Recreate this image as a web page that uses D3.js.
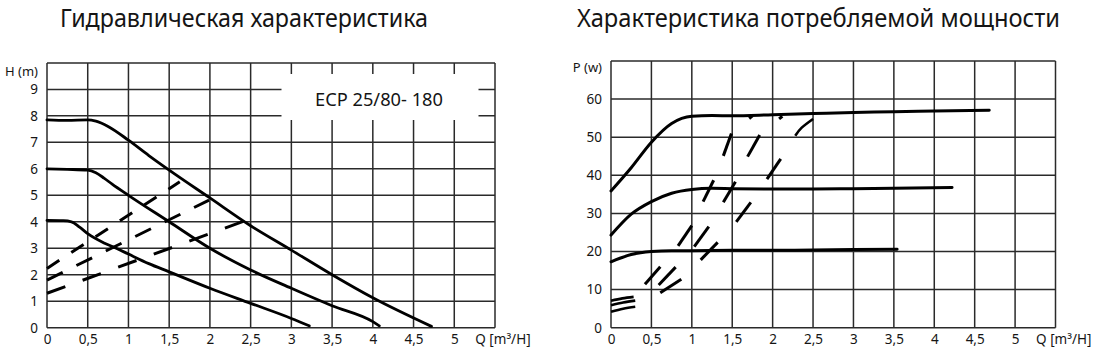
<!DOCTYPE html>
<html><head><meta charset="utf-8">
<script src="https://cdn.jsdelivr.net/npm/d3@7/dist/d3.min.js"></script>
<style>
body{margin:0;background:#fff}
text{font-family:"Noto Sans",sans-serif;fill:#151515}
</style>
</head><body>
<svg id="chart" width="1102" height="358"></svg>
<script>
// ---------- data ----------
const titleLeft = "Гидравлическая характеристика";
const titleRight = "Характеристика потребляемой мощности";
const modelLabel = "ECP 25/80- 180";
const hLabel = "H (m)";
const pLabel = "P (w)";
const qLabel = "Q [m³/H]";

const qTicks = [0,0.5,1,1.5,2,2.5,3,3.5,4,4.5,5];
const qGrid  = [0,0.5,1,1.5,2,2.5,3,3.5,4,4.5,5,5.5];
const hTicks = [0,1,2,3,4,5,6,7,8,9];
const hGrid  = [0,1,2,3,4,5,6,7,8,9,10];
const pTicks = [0,10,20,30,40,50,60];
const pGrid  = [0,10,20,30,40,50,60,70];

// hydraulic curves (speed 3, 2, 1)
const hQ3 = [0,0.25,0.5,0.6,0.75,1,1.25,1.5,2,2.5,3,3.5,4,4.72];
const hH3 = [7.85,7.83,7.85,7.8,7.6,7.08,6.5,5.95,4.9,3.85,2.93,2.0,1.13,0.05];
const hQ2 = [0,0.25,0.5,0.6,0.7,0.8,1,1.5,2,2.5,3,3.5,4,4.08];
const hH2 = [6.0,5.98,5.95,5.85,5.65,5.42,5.0,4.0,3.0,2.18,1.49,0.83,0.23,0.07];
const hQ1 = [0,0.2,0.3,0.4,0.5,0.7,0.85,1,1.25,1.5,2,2.5,3,3.22];
const hH1 = [4.05,4.04,4.0,3.8,3.55,3.2,3.0,2.78,2.42,2.11,1.49,0.92,0.35,0.07];

// system (dashed) lines on hydraulic chart
const sysQ1 = [0,1.63], sysH1 = [2.24,5.51];
const sysQ2 = [0,1.99], sysH2 = [1.8,4.82];
const sysQ3 = [0,2.45], sysH3 = [1.3,4.06];

// power curves (speed 3, 2, 1)
const pQ3 = [0,0.25,0.5,0.75,1,1.25,1.5,2,2.5,3,3.5,4,4.68];
const pP3 = [35.9,42.0,48.7,53.6,55.5,55.7,55.6,55.9,56.2,56.5,56.7,56.9,57.1];
const pQ2 = [0,0.25,0.5,0.75,1,1.25,1.5,2,2.5,3,3.5,4.22];
const pP2 = [24.3,29.8,33.1,35.3,36.3,36.6,36.5,36.4,36.4,36.5,36.6,36.8];
const pQ1 = [0,0.25,0.5,0.75,1,1.5,2,2.5,3,3.54];
const pP1 = [17.3,19.2,20.0,20.2,20.2,20.3,20.3,20.4,20.5,20.6];

// dash fragments on power chart: [q1,p1,q2,p2]
const powerDashes = [
  [1.39,45.1,1.49,51.0],[1.69,44.9,1.84,50.6],[1.93,39.0,2.10,44.3],
  [1.14,33.1,1.27,38.7],[1.39,32.9,1.54,38.3],[1.55,27.8,1.73,32.9],
  [0.83,21.5,1.00,26.8],[1.03,21.3,1.21,26.5],[1.11,17.8,1.32,22.4],
  [0.42,11.4,0.61,16.0],[0.59,11.2,0.80,15.9],[0.61,9.2,0.87,12.7],
  [1.71,54.9,1.75,55.6],[2.08,54.8,2.12,55.5]
];
// short curved fragments on power chart
const arcQ = [[2.28,2.36,2.50],[0,0.14,0.28],[0,0.15,0.30],[0,0.15,0.30]];
const arcP = [[50.4,52.5,54.8],[7.1,7.7,8.1],[5.9,6.6,7.1],[4.2,5.0,5.5]];

// ---------- drawing ----------
const svg = d3.select("#chart");
const fmt = d => String(d).replace(".", ",");
const gridColor = "#2a2a2a";

// titles
svg.append("text").attr("x",60).attr("y",26.5).attr("font-size",24.5)
  .attr("textLength",368).attr("lengthAdjust","spacingAndGlyphs").text(titleLeft);
svg.append("text").attr("x",577).attr("y",26.5).attr("font-size",24.5)
  .attr("textLength",483).attr("lengthAdjust","spacingAndGlyphs").text(titleRight);

function panel(opts){
  const {x0,x1,yb,yt,ymax,yGrid,yTicks,yName,yNameY} = opts;
  const x = d3.scaleLinear().domain([0,5.5]).range([x0,x1]);
  const y = d3.scaleLinear().domain([0,ymax]).range([yb,yt]);
  const g = svg.append("g");
  // grid
  g.append("g").selectAll("line").data(qGrid).join("line")
    .attr("x1",d=>x(d)).attr("x2",d=>x(d)).attr("y1",y(0)).attr("y2",y(ymax))
    .attr("stroke",gridColor).attr("stroke-width",1.5);
  g.append("g").selectAll("line").data(yGrid).join("line")
    .attr("y1",d=>y(d)).attr("y2",d=>y(d)).attr("x1",x(0)).attr("x2",x(5.5))
    .attr("stroke",gridColor).attr("stroke-width",1.5);
  // axes labels
  const xa = d3.axisBottom(x).tickValues(qTicks).tickSize(0).tickPadding(0).tickFormat(fmt);
  const gx = g.append("g").attr("transform",`translate(0,${y(0)+16.5})`).call(xa);
  gx.select(".domain").remove();
  gx.selectAll("text").attr("font-size",13.5).attr("font-family","Noto Sans").attr("fill","#151515").attr("dy",0);
  const ya = d3.axisLeft(y).tickValues(yTicks).tickSize(0).tickPadding(0).tickFormat(fmt);
  const gy = g.append("g").attr("transform",`translate(${x(0)-9},0)`).call(ya);
  gy.select(".domain").remove();
  gy.selectAll("text").attr("font-size",13.5).attr("font-family","Noto Sans").attr("fill","#151515");
  g.append("text").attr("x",x(0)-9).attr("y",yNameY).attr("text-anchor","end").attr("font-size",13).text(yName);
  g.append("text").attr("x",x(5)+21).attr("y",y(0)+16.5).attr("font-size",13.5).text(qLabel);
  return {x,y,g};
}

const L = panel({x0:47,x1:495,yb:327.7,yt:62.9,ymax:10,yGrid:hGrid,yTicks:hTicks,yName:hLabel,yNameY:76});
const R = panel({x0:611,x1:1055.5,yb:327.7,yt:61,ymax:70,yGrid:pGrid,yTicks:pTicks,yName:pLabel,yNameY:72});

// legend box on left chart
L.g.append("rect").attr("x",281.5).attr("y",74).attr("width",197).attr("height",46).attr("fill","#fff");
L.g.append("text").attr("x",379).attr("y",105.7).attr("text-anchor","middle").attr("font-size",17.5)
  .attr("textLength",128).attr("lengthAdjust","spacingAndGlyphs").text(modelLabel);

const zip = (a,b) => a.map((v,i)=>[v,b[i]]);

function curve(P, qs, vs, width, dash, interp){
  const line = d3.line().x(d=>P.x(d[0])).y(d=>P.y(d[1])).curve(interp || d3.curveMonotoneX);
  const p = P.g.append("path").datum(zip(qs,vs)).attr("d",line)
    .attr("fill","none").attr("stroke","#000").attr("stroke-width",width)
    .attr("stroke-linejoin","round");
  if (dash) p.attr("stroke-dasharray",dash).attr("stroke-linecap","butt");
  else p.attr("stroke-linecap","round");
  return p;
}

// hydraulic
curve(L,hQ3,hH3,2.8);
curve(L,hQ2,hH2,2.8);
curve(L,hQ1,hH1,2.8);
curve(L,sysQ1,sysH1,3,"14.7,14.3",d3.curveLinear);
curve(L,sysQ2,sysH2,3,"17.5,15.3",d3.curveLinear);
curve(L,sysQ3,sysH3,3,"19.5,18.4",d3.curveLinear);

// power
curve(R,pQ3,pP3,3);
curve(R,pQ2,pP2,3);
curve(R,pQ1,pP1,3);
R.g.append("g").selectAll("line").data(powerDashes).join("line")
  .attr("x1",d=>R.x(d[0])).attr("y1",d=>R.y(d[1]))
  .attr("x2",d=>R.x(d[2])).attr("y2",d=>R.y(d[3]))
  .attr("stroke","#000").attr("stroke-width",3).attr("stroke-linecap","butt");
arcQ.forEach((qs,i)=>{
  const p = curve(R,qs,arcP[i],2.6,null,d3.curveNatural);
  p.attr("stroke-linecap","butt");
});
</script>
</body></html>
